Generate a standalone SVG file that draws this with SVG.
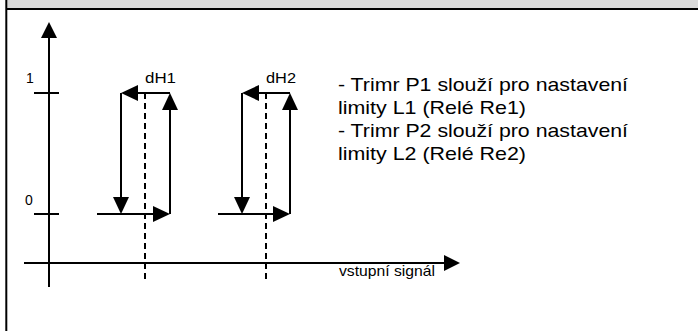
<svg xmlns="http://www.w3.org/2000/svg" width="698" height="331" viewBox="0 0 698 331">
<style>
.ln{stroke:#000;stroke-width:2;fill:none}
.ar{stroke:#000;stroke-width:2;fill:none;marker-end:url(#ah)}
.ds{stroke:#000;stroke-width:2;fill:none;stroke-dasharray:6 4}
.t{font-family:"Liberation Sans",Arial,sans-serif;fill:#000}
.n{font-size:19px}
</style>
<defs>
<marker id="ah" markerUnits="userSpaceOnUse" markerWidth="17" markerHeight="16" refX="11" refY="8" orient="auto" viewBox="0 0 17 16">
<path d="M0,0 L17,8 L0,16 z" fill="#000"/>
</marker>
<marker id="ax" markerUnits="userSpaceOnUse" markerWidth="16" markerHeight="16" refX="10" refY="8" orient="auto" viewBox="0 0 16 16">
<path d="M0,0 L16,8 L0,16 z" fill="#000"/>
</marker>
</defs>
<rect x="0" y="0" width="698" height="331" fill="#fff"/>
<rect x="6" y="0" width="692" height="8" fill="#d9d9d9"/>
<line x1="6" y1="9" x2="698" y2="9" stroke="#000" stroke-width="2"/>
<line x1="6.3" y1="0" x2="6.3" y2="331" stroke="#000" stroke-width="2"/>

<g id="axes">
<line class="ln" x1="49" y1="287" x2="49" y2="28" marker-end="url(#ax)"/>
<line class="ln" x1="24" y1="263" x2="454" y2="263" marker-end="url(#ax)"/>
<line class="ln" x1="34" y1="93" x2="59" y2="93"/>
<line class="ln" x1="34" y1="214" x2="59" y2="214"/>
<text class="t" x="26" y="83" font-size="14">1</text>
<text class="t" x="25" y="205" font-size="14">0</text>
<text class="t" x="339" y="276" font-size="14.5" textLength="96" lengthAdjust="spacingAndGlyphs">vstupní signál</text>
</g>

<g id="loop1">
<text class="t" x="145" y="83" font-size="14.5" textLength="31" lengthAdjust="spacingAndGlyphs">dH1</text>
</g>
<g id="loop2">
<text class="t" x="266" y="83" font-size="14.5" textLength="30" lengthAdjust="spacingAndGlyphs">dH2</text>
</g>

<g id="connectors">
<line class="ds" x1="145" y1="93" x2="145" y2="282"/>
<line class="ds" x1="266" y1="93" x2="266" y2="282"/>
<line class="ar" x1="170" y1="93" x2="127" y2="93"/>
<line class="ar" x1="121" y1="93" x2="121" y2="208"/>
<line class="ar" x1="97" y1="214" x2="164" y2="214"/>
<line class="ar" x1="170" y1="214" x2="170" y2="99"/>
<line class="ar" x1="290" y1="93" x2="248" y2="93"/>
<line class="ar" x1="242" y1="93" x2="242" y2="208"/>
<line class="ar" x1="218" y1="214" x2="284" y2="214"/>
<line class="ar" x1="290" y1="214" x2="290" y2="99"/>
</g>

<g id="note">
<text class="t n" x="338" y="91" textLength="290" lengthAdjust="spacingAndGlyphs">- Trimr P1 slouží pro nastavení</text>
<text class="t n" x="338" y="114" textLength="188" lengthAdjust="spacingAndGlyphs">limity L1 (Relé Re1)</text>
<text class="t n" x="338" y="137" textLength="290" lengthAdjust="spacingAndGlyphs">- Trimr P2 slouží pro nastavení</text>
<text class="t n" x="338" y="160" textLength="188" lengthAdjust="spacingAndGlyphs">limity L2 (Relé Re2)</text>
</g>
</svg>
